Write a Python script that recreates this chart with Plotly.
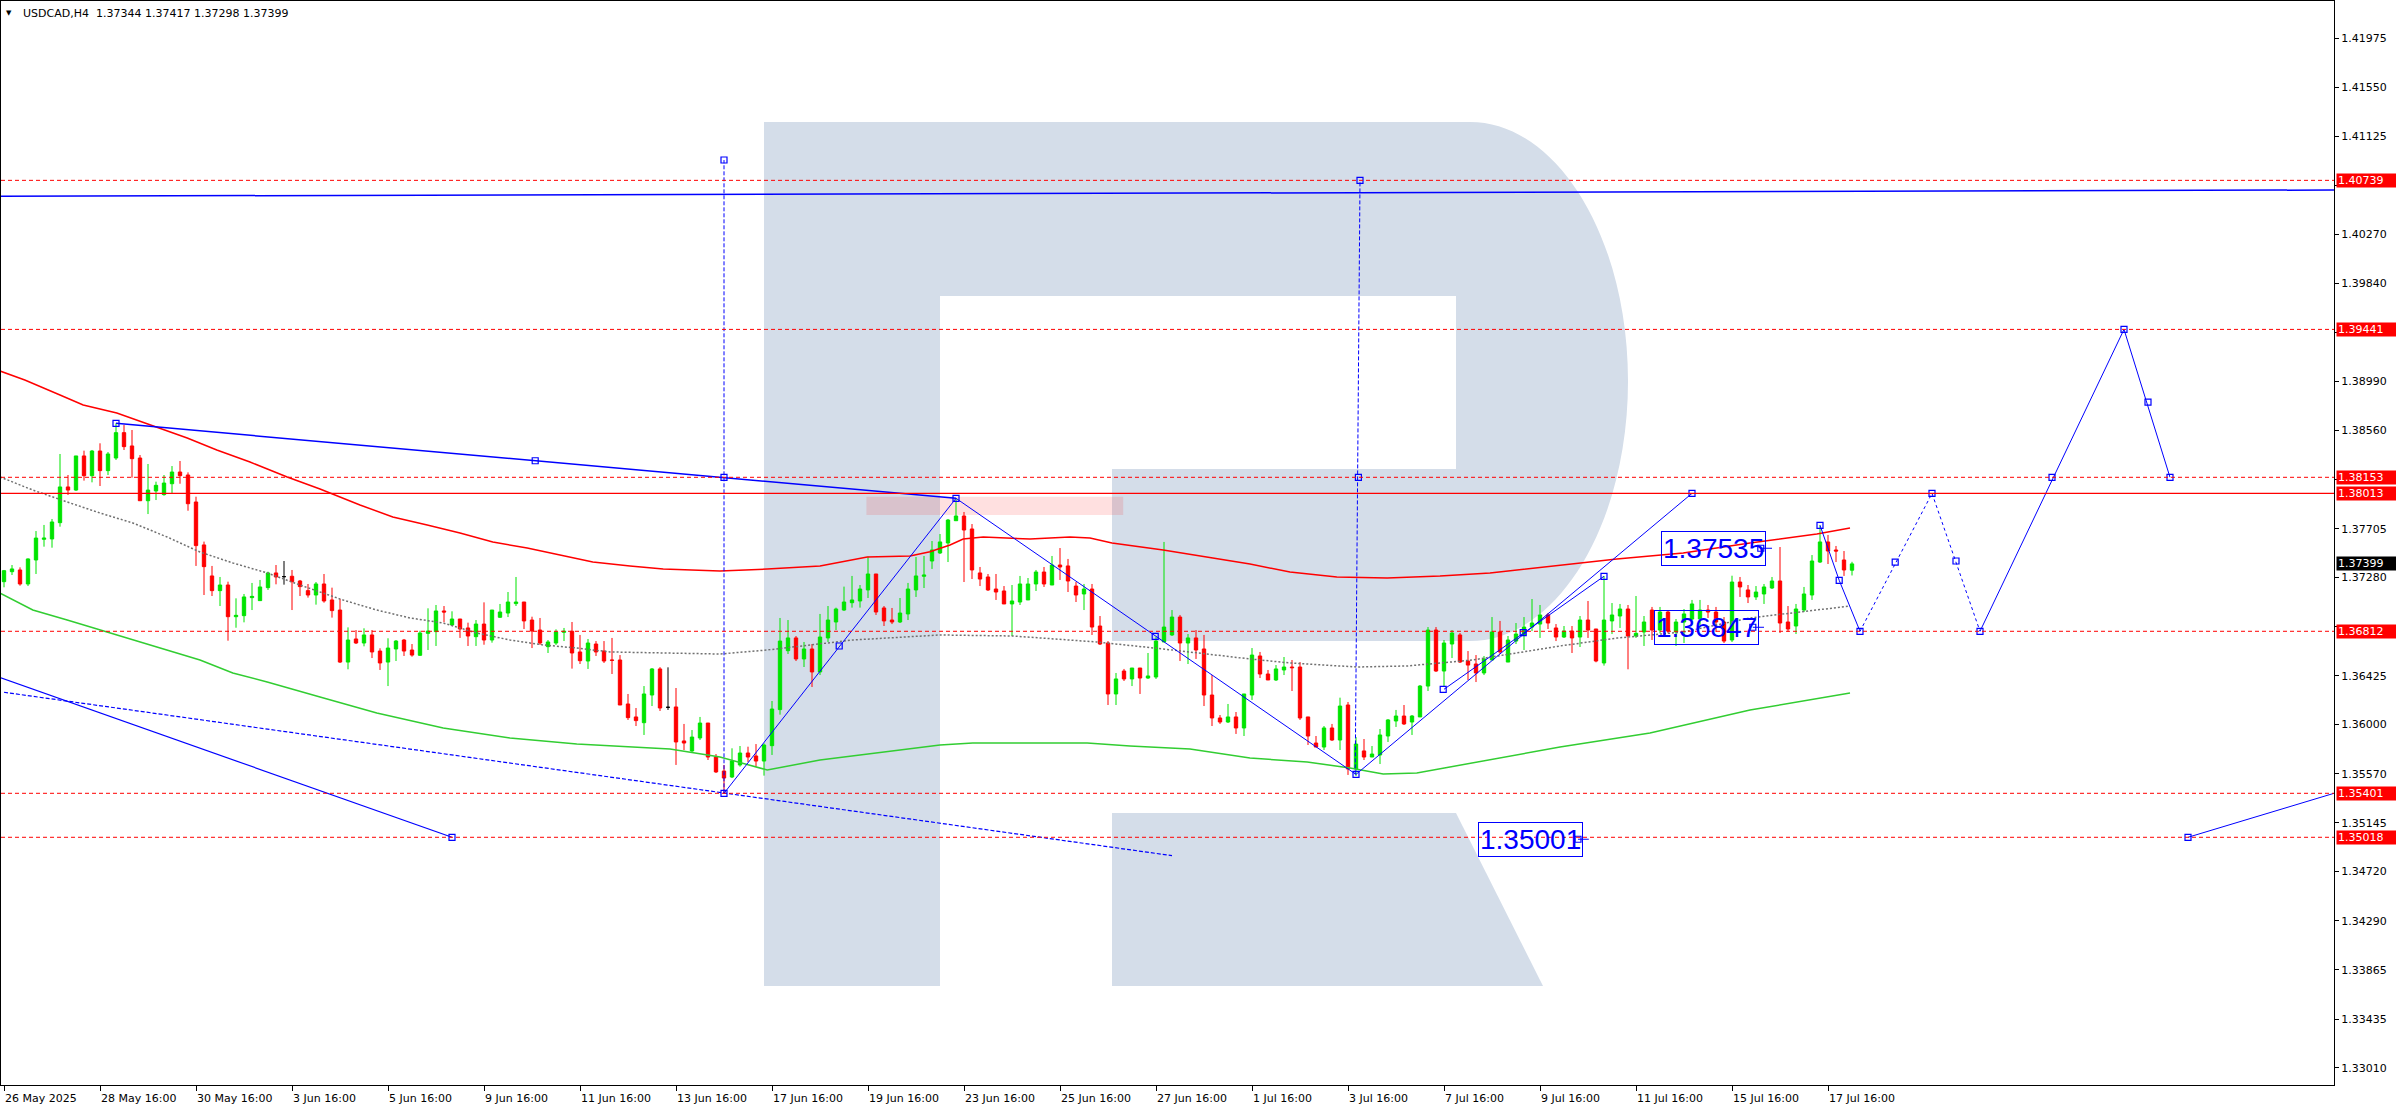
import plotly.graph_objects as go

# ---------------- DATA ----------------
SYMBOL = "USDCAD,H4"
TITLE_OHLC = [1.37344, 1.37417, 1.37298, 1.37399]

OPEN = [
 1.37244, 1.37331, 1.37346, 1.37224, 1.37433, 1.37613, 1.37616, 1.37758, 1.38069, 1.38042,
 1.38339, 1.38167, 1.38382, 1.38211, 1.38321, 1.38542, 1.38426, 1.38321, 1.37949, 1.38034,
 1.38002, 1.38097, 1.38199, 1.38173, 1.37938, 1.37564, 1.37294, 1.37166, 1.37215, 1.36939,
 1.36948, 1.37105, 1.37079, 1.37192, 1.37320, 1.37288, 1.37291, 1.37250, 1.37166, 1.37128,
 1.37224, 1.37085, 1.36997, 1.36544, 1.36745, 1.36710, 1.36780, 1.36640, 1.36544, 1.36658,
 1.36736, 1.36649, 1.36603, 1.36794, 1.36809, 1.36989, 1.36867, 1.36919, 1.36841, 1.36765,
 1.36875, 1.36736, 1.36934, 1.36971, 1.37053, 1.37067, 1.36910, 1.36823, 1.36678, 1.36710,
 1.36803, 1.36812, 1.36632, 1.36553, 1.36701, 1.36640, 1.36562, 1.36562, 1.36179, 1.36066,
 1.36016, 1.36257, 1.36484, 1.36150, 1.36153, 1.35857, 1.35770, 1.35883, 1.36013, 1.35717,
 1.35595, 1.35543, 1.35648, 1.35752, 1.35726, 1.35682, 1.35816, 1.36130, 1.36643, 1.36754,
 1.36571, 1.36658, 1.36458, 1.36754, 1.36893, 1.36997, 1.37061, 1.37076, 1.37172, 1.37311,
 1.37015, 1.36910, 1.36893, 1.36963, 1.37172, 1.37291, 1.37424, 1.37494, 1.37581, 1.37775,
 1.37816, 1.37703, 1.37320, 1.37285, 1.37180, 1.37163, 1.37050, 1.37067, 1.37085, 1.37224,
 1.37328, 1.37215, 1.37389, 1.37381, 1.37206, 1.37137, 1.37180, 1.36858, 1.36710, 1.36266,
 1.36466, 1.36397, 1.36492, 1.36405, 1.36414, 1.36719, 1.36780, 1.36936, 1.36710, 1.36754,
 1.36658, 1.36257, 1.36057, 1.36022, 1.36066, 1.35970, 1.36257, 1.36597, 1.36440, 1.36388,
 1.36475, 1.36501, 1.36501, 1.36066, 1.35839, 1.35804, 1.35970, 1.35865, 1.36170, 1.35613,
 1.35770, 1.35717, 1.35735, 1.35900, 1.36031, 1.36074, 1.36022, 1.36066, 1.36335, 1.36823,
 1.36466, 1.36701, 1.36780, 1.36553, 1.36527, 1.36449, 1.36562, 1.36806, 1.36544, 1.36727,
 1.36780, 1.36849, 1.36875, 1.36954, 1.36841, 1.36762, 1.36814, 1.36762, 1.36910, 1.36832,
 1.36536, 1.36902, 1.36945, 1.37006, 1.36771, 1.36806, 1.36997, 1.36823, 1.36980, 1.36806,
 1.36893, 1.36919, 1.36919, 1.36997, 1.36980, 1.36893, 1.36736, 1.37241, 1.37172, 1.37111,
 1.37137, 1.37189, 1.37250, 1.36893, 1.36858, 1.36997, 1.37128, 1.37415, 1.37590, 1.37520,
 1.37433, 1.37344]
HIGH = [
 1.37346, 1.37389, 1.37369, 1.37447, 1.37685, 1.37738, 1.37790, 1.38356, 1.38173, 1.38339,
 1.38385, 1.38391, 1.38449, 1.38373, 1.38623, 1.38608, 1.38565, 1.38347, 1.38269, 1.38115,
 1.38173, 1.38251, 1.38295, 1.38196, 1.37984, 1.37593, 1.37381, 1.37285, 1.37244, 1.37099,
 1.37137, 1.37233, 1.37259, 1.37331, 1.37389, 1.37424, 1.37346, 1.37259, 1.37224, 1.37241,
 1.37311, 1.37192, 1.37093, 1.36846, 1.36823, 1.36838, 1.36823, 1.36664, 1.36751, 1.36736,
 1.36745, 1.36701, 1.36817, 1.37012, 1.37041, 1.37032, 1.36986, 1.36919, 1.36887, 1.36910,
 1.37064, 1.36997, 1.37050, 1.37154, 1.37285, 1.37067, 1.36939, 1.36928, 1.36736, 1.36829,
 1.36841, 1.36893, 1.36780, 1.36745, 1.36727, 1.36727, 1.36754, 1.36605, 1.36266, 1.36144,
 1.36335, 1.36492, 1.36500, 1.36498, 1.36318, 1.36005, 1.35952, 1.36066, 1.36013, 1.35743,
 1.35648, 1.35793, 1.35813, 1.35807, 1.35830, 1.35836, 1.36205, 1.36928, 1.36910, 1.36771,
 1.36719, 1.36701, 1.36963, 1.37032, 1.37018, 1.37201, 1.37294, 1.37215, 1.37462, 1.37311,
 1.37032, 1.37015, 1.37102, 1.37233, 1.37459, 1.37468, 1.37598, 1.37659, 1.37790, 1.37970,
 1.37851, 1.37746, 1.37372, 1.37311, 1.37311, 1.37206, 1.37215, 1.37294, 1.37276, 1.37346,
 1.37372, 1.37468, 1.37537, 1.37442, 1.37241, 1.37224, 1.37224, 1.36945, 1.36727, 1.36449,
 1.36484, 1.36492, 1.36492, 1.36623, 1.36762, 1.37590, 1.36997, 1.36954, 1.36788, 1.36823,
 1.36780, 1.36431, 1.36083, 1.36179, 1.36109, 1.36266, 1.36666, 1.36632, 1.36475, 1.36518,
 1.36588, 1.36562, 1.36544, 1.36066, 1.35900, 1.35987, 1.36005, 1.36234, 1.36196, 1.35891,
 1.35874, 1.35813, 1.35961, 1.36048, 1.36127, 1.36170, 1.36083, 1.36344, 1.36849, 1.36849,
 1.36736, 1.36823, 1.36797, 1.36640, 1.36605, 1.36597, 1.36936, 1.36902, 1.36771, 1.36884,
 1.36936, 1.37093, 1.37041, 1.36971, 1.36875, 1.36858, 1.36858, 1.36945, 1.37076, 1.36832,
 1.37294, 1.37058, 1.37050, 1.37041, 1.37119, 1.36945, 1.37024, 1.37024, 1.36997, 1.36919,
 1.37006, 1.37085, 1.37085, 1.37041, 1.37024, 1.36936, 1.37296, 1.37285, 1.37215, 1.37206,
 1.37224, 1.37285, 1.37546, 1.37032, 1.37050, 1.37198, 1.37476, 1.37735, 1.37651, 1.37555,
 1.37511, 1.37417]
LOW = [
 1.37195, 1.37302, 1.37209, 1.37206, 1.37311, 1.37549, 1.37540, 1.37723, 1.37999, 1.38034,
 1.38124, 1.38109, 1.38077, 1.38173, 1.38304, 1.38391, 1.38150, 1.37949, 1.37833, 1.37955,
 1.37993, 1.38013, 1.38097, 1.37862, 1.37381, 1.37128, 1.37119, 1.37032, 1.36730, 1.36843,
 1.36890, 1.36997, 1.37076, 1.37172, 1.37221, 1.37218, 1.36997, 1.37119, 1.37105, 1.37044,
 1.37061, 1.36931, 1.36536, 1.36481, 1.36701, 1.36681, 1.36579, 1.36475, 1.36335, 1.36553,
 1.36597, 1.36591, 1.36597, 1.36649, 1.36684, 1.36890, 1.36867, 1.36754, 1.36684, 1.36684,
 1.36695, 1.36713, 1.36928, 1.36936, 1.37032, 1.36832, 1.36666, 1.36693, 1.36623, 1.36693,
 1.36727, 1.36487, 1.36527, 1.36484, 1.36597, 1.36536, 1.36440, 1.36170, 1.36040, 1.35987,
 1.35909, 1.36161, 1.36118, 1.36127, 1.35648, 1.35778, 1.35761, 1.35865, 1.35691, 1.35578,
 1.35401, 1.35534, 1.35633, 1.35674, 1.35633, 1.35555, 1.35735, 1.36086, 1.36614, 1.36553,
 1.36501, 1.36327, 1.36431, 1.36719, 1.36823, 1.36989, 1.37018, 1.37018, 1.37102, 1.36954,
 1.36858, 1.36875, 1.36884, 1.36910, 1.37111, 1.37189, 1.37355, 1.37485, 1.37415, 1.37775,
 1.37241, 1.37267, 1.37206, 1.37163, 1.37085, 1.37050, 1.36771, 1.37041, 1.37085, 1.37163,
 1.37198, 1.37215, 1.37259, 1.37154, 1.37067, 1.36997, 1.36780, 1.36693, 1.36170, 1.36170,
 1.36379, 1.36335, 1.36266, 1.36397, 1.36397, 1.36719, 1.36771, 1.36553, 1.36527, 1.36571,
 1.36161, 1.35987, 1.36005, 1.36013, 1.35918, 1.35900, 1.36214, 1.36405, 1.36388, 1.36379,
 1.36431, 1.36292, 1.36040, 1.35822, 1.35804, 1.35778, 1.35857, 1.35778, 1.35561, 1.35552,
 1.35691, 1.35717, 1.35656, 1.35848, 1.35979, 1.35996, 1.35909, 1.36066, 1.36292, 1.36458,
 1.36327, 1.36579, 1.36536, 1.36388, 1.36370, 1.36431, 1.36562, 1.36614, 1.36544, 1.36701,
 1.36649, 1.36814, 1.36754, 1.36832, 1.36727, 1.36754, 1.36623, 1.36675, 1.36754, 1.36542,
 1.36513, 1.36788, 1.36841, 1.36481, 1.36754, 1.36684, 1.36736, 1.36794, 1.36794, 1.36684,
 1.36710, 1.36910, 1.36858, 1.36928, 1.36806, 1.36710, 1.36719, 1.37111, 1.37058, 1.37085,
 1.37050, 1.37180, 1.36797, 1.36806, 1.36788, 1.36980, 1.37085, 1.37407, 1.37398, 1.37415,
 1.37294, 1.37298]
CLOSE = [
 1.37340, 1.37355, 1.37224, 1.37442, 1.37624, 1.37624, 1.37764, 1.38069, 1.38042, 1.38339,
 1.38167, 1.38382, 1.38211, 1.38356, 1.38542, 1.38420, 1.38315, 1.37949, 1.38042, 1.38083,
 1.38103, 1.38199, 1.38167, 1.37923, 1.37558, 1.37375, 1.37166, 1.37215, 1.36939, 1.36951,
 1.37111, 1.37116, 1.37198, 1.37320, 1.37285, 1.37288, 1.37244, 1.37201, 1.37128, 1.37224,
 1.37076, 1.36992, 1.36544, 1.36736, 1.36710, 1.36780, 1.36632, 1.36536, 1.36666, 1.36727,
 1.36640, 1.36605, 1.36797, 1.36814, 1.36989, 1.36980, 1.36919, 1.36832, 1.36771, 1.36875,
 1.36736, 1.36997, 1.36980, 1.37067, 1.37067, 1.36902, 1.36814, 1.36710, 1.36719, 1.36806,
 1.36812, 1.36623, 1.36556, 1.36710, 1.36632, 1.36553, 1.36559, 1.36170, 1.36060, 1.36034,
 1.36266, 1.36484, 1.36144, 1.36150, 1.35848, 1.35839, 1.35891, 1.36013, 1.35717, 1.35587,
 1.35534, 1.35682, 1.35752, 1.35717, 1.35682, 1.35822, 1.36135, 1.36727, 1.36754, 1.36571,
 1.36658, 1.36458, 1.36762, 1.36910, 1.37006, 1.37067, 1.37085, 1.37180, 1.37311, 1.36980,
 1.36902, 1.36893, 1.36971, 1.37180, 1.37294, 1.37302, 1.37520, 1.37590, 1.37781, 1.37816,
 1.37694, 1.37346, 1.37267, 1.37172, 1.37154, 1.37050, 1.37076, 1.37224, 1.37224, 1.37328,
 1.37224, 1.37389, 1.37372, 1.37250, 1.37128, 1.37180, 1.36849, 1.36701, 1.36266, 1.36397,
 1.36397, 1.36492, 1.36405, 1.36423, 1.36727, 1.36849, 1.36936, 1.36710, 1.36754, 1.36649,
 1.36257, 1.36057, 1.36022, 1.36066, 1.35970, 1.36266, 1.36605, 1.36440, 1.36388, 1.36484,
 1.36501, 1.36495, 1.36057, 1.35900, 1.35804, 1.35970, 1.35865, 1.36161, 1.35613, 1.35830,
 1.35717, 1.35743, 1.35909, 1.36040, 1.36074, 1.36005, 1.36074, 1.36335, 1.36823, 1.36466,
 1.36710, 1.36797, 1.36544, 1.36518, 1.36449, 1.36571, 1.36806, 1.36632, 1.36736, 1.36788,
 1.36849, 1.36884, 1.36954, 1.36884, 1.36762, 1.36814, 1.36754, 1.36910, 1.36823, 1.36553,
 1.36910, 1.36954, 1.37006, 1.36771, 1.36794, 1.36893, 1.36823, 1.36980, 1.36814, 1.36893,
 1.36963, 1.37050, 1.36997, 1.36980, 1.36893, 1.36727, 1.37241, 1.37198, 1.37111, 1.37154,
 1.37198, 1.37250, 1.36884, 1.36832, 1.37006, 1.37137, 1.37424, 1.37590, 1.37511, 1.37511,
 1.37346, 1.37399]
BARS = list(range(len(OPEN)))
DOJI_BARS = [35, 83]

DATE_TICK_BARS = [0, 12, 24, 36, 48, 60, 72, 84, 96, 108, 120, 132, 144, 156, 168, 180, 192, 204, 216, 228]
DATE_TICK_TEXT = ["26 May 2025", "28 May 16:00", "30 May 16:00", "3 Jun 16:00", "5 Jun 16:00",
                  "9 Jun 16:00", "11 Jun 16:00", "13 Jun 16:00", "17 Jun 16:00", "19 Jun 16:00",
                  "23 Jun 16:00", "25 Jun 16:00", "27 Jun 16:00", "1 Jul 16:00", "3 Jul 16:00",
                  "7 Jul 16:00", "9 Jul 16:00", "11 Jul 16:00", "15 Jul 16:00", "17 Jul 16:00"]
PRICE_TICKS = [1.41975, 1.41550, 1.41125, 1.40695, 1.40270, 1.39840, 1.39415, 1.38990, 1.38560,
               1.38135, 1.37705, 1.37280, 1.36855, 1.36425, 1.36000, 1.35570, 1.35145, 1.34720,
               1.34290, 1.33865, 1.33435, 1.33010]
PRICE_TICKS_HIDDEN = [1.40695, 1.39415, 1.38135, 1.36855]   # covered by the level price labels

# moving averages
MA_RED_X = [-0.5, 2.6, 7.0, 9.9, 14.1, 19.1, 22.9, 26.6, 30.75, 35.4, 39.5, 44.5, 48.6, 52.9, 57.0,
            61.1, 65.4, 69.5, 73.6, 78.25, 82.4, 89.5, 95.4, 102.0, 107.9, 113.25, 115.75, 118.25,
            119.9, 122.4, 128.25, 133.25, 135.75, 138.5, 144.9, 151.1, 155.75, 160.75, 166.6, 172.9,
            179.5, 185.75, 194.5, 201.6, 209.9, 218.25, 226.6, 230.75]
MA_RED_Y = [1.39079, 1.39000, 1.38870, 1.38783, 1.38713, 1.38591, 1.38495, 1.38391, 1.38286, 1.38156,
            1.38051, 1.37912, 1.37807, 1.37738, 1.37668, 1.37590, 1.37537, 1.37476, 1.37415, 1.37381,
            1.37354, 1.37337, 1.37354, 1.37381, 1.37459, 1.37468, 1.37505, 1.37563, 1.37616, 1.37633,
            1.37616, 1.37633, 1.37624, 1.37581, 1.37520, 1.37450, 1.37398, 1.37328, 1.37285, 1.37276,
            1.37293, 1.37320, 1.37389, 1.37441, 1.37494, 1.37581, 1.37659, 1.37711]
MA_GRAY_X = [-0.5, 3.6, 7.9, 12.0, 16.1, 20.4, 24.5, 28.6, 32.9, 37.0, 42.4, 46.6, 50.75, 54.9, 59.1,
             63.25, 67.4, 71.6, 75.75, 89.5, 95.4, 102.0, 106.1, 117.0, 126.1, 136.6, 144.9, 155.75,
             160.75, 169.1, 175.4, 183.6, 194.5, 201.6, 209.9, 218.25, 226.6, 230.75]
MA_GRAY_Y = [1.38156, 1.38042, 1.37938, 1.37842, 1.37755, 1.37633, 1.37502, 1.37407, 1.37320, 1.37215,
             1.37084, 1.36997, 1.36928, 1.36884, 1.36797, 1.36736, 1.36693, 1.36666, 1.36632, 1.36614,
             1.36649, 1.36701, 1.36736, 1.36780, 1.36771, 1.36719, 1.36658, 1.36571, 1.36536, 1.36501,
             1.36510, 1.36562, 1.36684, 1.36753, 1.36806, 1.36928, 1.36997, 1.37032]
MA_GREEN_X = [-0.5, 3.6, 7.9, 12.0, 16.1, 20.4, 24.5, 28.6, 32.9, 39.5, 46.6, 54.9, 63.25, 71.6, 78.25,
              83.25, 89.5, 95.4, 102.0, 110.4, 117.0, 121.1, 135.4, 140.75, 148.25, 155.75, 162.9,
              168.25, 172.4, 176.6, 183.6, 194.5, 205.75, 218.25, 230.75]
MA_GREEN_Y = [1.37145, 1.36997, 1.36910, 1.36823, 1.36736, 1.36649, 1.36562, 1.36449, 1.36370, 1.36240,
              1.36100, 1.35970, 1.35883, 1.35830, 1.35804, 1.35787, 1.35717, 1.35604, 1.35691, 1.35761,
              1.35822, 1.35839, 1.35839, 1.35813, 1.35787, 1.35708, 1.35674, 1.35621, 1.35569, 1.35578,
              1.35665, 1.35804, 1.35926, 1.36126, 1.36274]

# horizontal levels
LEVELS_DOTTED = [1.40739, 1.39441, 1.38153, 1.36812, 1.35401, 1.35018]
LEVELS_SOLID = [1.38013]
AXIS_LABELS_RED = [1.40739, 1.39441, 1.38153, 1.38013, 1.36812, 1.35401, 1.35018]
CURRENT_PRICE = 1.37399

# drawn trend lines (bar index, price)
TOP_LINE_X = [-0.375, 291.25]
TOP_LINE_Y = [1.40600, 1.40655]
PEAK_TREND_X = [14, 119]
PEAK_TREND_Y = [1.38623, 1.37970]
LOW_SOLID_X = [-0.5, 56]
LOW_SOLID_Y = [1.36410, 1.35018]
LOW_DOTTED_X = [0, 146]
LOW_DOTTED_Y = [1.36281, 1.34858]
ZIGZAG_X = [90, 119, 169, 211]
ZIGZAG_Y = [1.35401, 1.37970, 1.35566, 1.38013]
INNER_TREND_X = [180, 200]
INNER_TREND_Y = [1.36307, 1.37291]
VERT1_X = [90, 90]
VERT1_Y = [1.35401, 1.40916]
VERT2_X = [168.9, 169.5]
VERT2_Y = [1.35566, 1.40739]
FC_SOLID1_X = [227, 229.4, 232]
FC_SOLID1_Y = [1.37735, 1.37256, 1.36812]
FC_DOTTED_X = [232, 241, 247]
FC_DOTTED_Y = [1.36812, 1.38013, 1.36812]
FC_SOLID2_X = [247, 265, 270.75]
FC_SOLID2_Y = [1.36812, 1.39441, 1.38153]
EXTRA_LINE_X = [273, 291.25]
EXTRA_LINE_Y = [1.35018, 1.35401]
MARKER_X = [14, 66.4, 56, 90, 104.4, 119, 143.9, 169, 179.9, 189.9, 200, 211, 227, 229.4, 232,
            236.4, 241, 244, 247, 256, 265, 268, 270.75, 273, 90, 169.5, 90, 169.3]
MARKER_Y = [1.38623, 1.38297, 1.35018, 1.35401, 1.36684, 1.37970, 1.36768, 1.35566, 1.36307, 1.36800,
            1.37291, 1.38013, 1.37735, 1.37256, 1.36812, 1.37415, 1.38013, 1.37424, 1.36812, 1.38153,
            1.39441, 1.38807, 1.38153, 1.35018, 1.40916, 1.40739, 1.38153, 1.38153]

# text labels on the chart
TEXT_LABELS = ["1.37535", "1.36847", "1.35001"]
TEXT_LABEL_PRICE = [1.37535, 1.36847, 1.35001]
TEXT_LABEL_BAR = [207.1, 206.2, 184.2]
TEXT_LINK_X0 = [219.6, 218.6, 196.75]
TEXT_LINK_X1 = [221.0, 220.0, 198.1]

SHADE_X = [107.8, 139.9]
SHADE_Y = [1.37825, 1.37984]

# ---------------- GEOMETRY / STYLE ----------------
FIG_W, FIG_H = 2396, 1110
M_L, M_R, M_T, M_B = 1, 62, 1, 25
BAR_PX, FIRST_BAR_PX = 8, 4
REF_PRICE, REF_PX, PX_PER_UNIT = 1.38153, 477.3, 11483.0
X_RANGE = [(M_L - FIRST_BAR_PX) / BAR_PX, (FIG_W - M_R - FIRST_BAR_PX) / BAR_PX]
Y_RANGE = [REF_PRICE - (FIG_H - M_B - REF_PX) / PX_PER_UNIT, REF_PRICE + (REF_PX - M_T) / PX_PER_UNIT]

BLUE = "#0000ff"
RED = "#ff0000"
GREEN = "#00e400"
LOGO = "#d4dde9"
AXFONT = dict(family="DejaVu Sans", size=11, color="black")

fig = go.Figure()

# moving averages
fig.add_trace(go.Scatter(x=MA_GREEN_X, y=MA_GREEN_Y, mode="lines", line=dict(color="#32cd32", width=1.5), hoverinfo="skip"))
fig.add_trace(go.Scatter(x=MA_GRAY_X, y=MA_GRAY_Y, mode="lines", line=dict(color="#707070", width=1.5, dash="2px,2px"), hoverinfo="skip"))
fig.add_trace(go.Scatter(x=MA_RED_X, y=MA_RED_Y, mode="lines", line=dict(color=RED, width=1.5), hoverinfo="skip"))

# candles
main = [i for i in BARS if i not in DOJI_BARS]
fig.add_trace(go.Candlestick(
    x=[BARS[i] for i in main], open=[OPEN[i] for i in main], high=[HIGH[i] for i in main],
    low=[LOW[i] for i in main], close=[CLOSE[i] for i in main],
    increasing=dict(line=dict(color=GREEN, width=1), fillcolor=GREEN),
    decreasing=dict(line=dict(color=RED, width=1), fillcolor=RED),
    whiskerwidth=0, hoverinfo="skip"))
fig.add_trace(go.Candlestick(
    x=DOJI_BARS, open=[OPEN[i] for i in DOJI_BARS], high=[HIGH[i] for i in DOJI_BARS],
    low=[LOW[i] for i in DOJI_BARS], close=[CLOSE[i] for i in DOJI_BARS],
    increasing=dict(line=dict(color="black", width=1), fillcolor="black"),
    decreasing=dict(line=dict(color="black", width=1), fillcolor="black"),
    whiskerwidth=0, hoverinfo="skip"))

def line(xs, ys, width=1, dash=None):
    fig.add_trace(go.Scatter(x=xs, y=ys, mode="lines", line=dict(color=BLUE, width=width, dash=dash),
                             hoverinfo="skip"))

line(TOP_LINE_X, TOP_LINE_Y, 1.5)
line(PEAK_TREND_X, PEAK_TREND_Y, 1.5)
line(LOW_SOLID_X, LOW_SOLID_Y, 1.2)
line(LOW_DOTTED_X, LOW_DOTTED_Y, 1.2, "4px,2px")
line(ZIGZAG_X, ZIGZAG_Y, 1)
line(INNER_TREND_X, INNER_TREND_Y, 1)
line(VERT1_X, VERT1_Y, 1, "4px,2px")
line(VERT2_X, VERT2_Y, 1, "4px,2px")
line(FC_SOLID1_X, FC_SOLID1_Y, 1)
line(FC_DOTTED_X, FC_DOTTED_Y, 1, "3px,3px")
line(FC_SOLID2_X, FC_SOLID2_Y, 1)
line(EXTRA_LINE_X, EXTRA_LINE_Y, 1)
for x0, x1, p in zip(TEXT_LINK_X0, TEXT_LINK_X1, TEXT_LABEL_PRICE):
    line([x0, x1], [p, p], 1)
fig.add_trace(go.Scatter(x=MARKER_X + TEXT_LINK_X0, y=MARKER_Y + TEXT_LABEL_PRICE, mode="markers",
                         marker=dict(symbol="square-open", size=6, color=BLUE, line=dict(width=1.2)),
                         hoverinfo="skip"))

# ---------------- SHAPES ----------------
shapes = []
def pp(x, y):
    return f"{(x - M_L) / (FIG_W - M_L - M_R):.5f},{1 - (y - M_T) / (FIG_H - M_T - M_B):.5f}"

k = 0.5523
cx, cy, rx, ry = 1470, 381, 158, 259
logo_paths = [
    f"M {pp(764,122)} L {pp(940,122)} L {pp(940,986)} L {pp(764,986)} Z",
    (f"M {pp(940,122)} L {pp(cx,122)} C {pp(cx+rx*k,122)} {pp(cx+rx,cy-ry*k)} {pp(cx+rx,cy)} "
     f"C {pp(cx+rx,cy+ry*k)} {pp(cx+rx*k,641)} {pp(cx,641)} L {pp(1112,641)} L {pp(1112,469)} "
     f"L {pp(1456,469)} L {pp(1456,296)} L {pp(940,296)} Z"),
    f"M {pp(1112,813)} L {pp(1456,813)} L {pp(1543,986)} L {pp(1112,986)} Z",
]
for pth in logo_paths:
    shapes.append(dict(type="path", path=pth, xref="paper", yref="paper", fillcolor=LOGO,
                       line=dict(width=0), layer="below"))
shapes.append(dict(type="rect", x0=SHADE_X[0], x1=SHADE_X[1], y0=SHADE_Y[0], y1=SHADE_Y[1],
                   xref="x", yref="y", fillcolor="rgba(255,0,0,0.12)", line=dict(width=0), layer="below"))
for v in LEVELS_DOTTED:
    shapes.append(dict(type="line", xref="paper", x0=0, x1=1, yref="y", y0=v, y1=v,
                       line=dict(color=RED, width=1, dash="4px,3px"), layer="above"))
for v in LEVELS_SOLID:
    shapes.append(dict(type="line", xref="paper", x0=0, x1=1, yref="y", y0=v, y1=v,
                       line=dict(color=RED, width=1.3), layer="above"))

# ---------------- ANNOTATIONS ----------------
ann = []
for b, t in zip(DATE_TICK_BARS, DATE_TICK_TEXT):
    ann.append(dict(x=b, xref="x", y=0, yref="paper", text=t, showarrow=False, xanchor="left",
                    yanchor="top", xshift=-1, yshift=-5, font=AXFONT))
for v in AXIS_LABELS_RED:
    ann.append(dict(x=1, xref="paper", y=v, yref="y", text=f"{v:.5f}", showarrow=False, xanchor="left",
                    xshift=2, bgcolor=RED, font=dict(family="DejaVu Sans", size=11, color="white"),
                    width=58, height=11, borderpad=1, align="left"))
ann.append(dict(x=1, xref="paper", y=CURRENT_PRICE, yref="y", text=f"{CURRENT_PRICE:.5f}", showarrow=False,
                xanchor="left", xshift=2, bgcolor="black", font=dict(family="DejaVu Sans", size=11, color="white"),
                width=58, height=11, borderpad=1, align="left"))
for t, p, b in zip(TEXT_LABELS, TEXT_LABEL_PRICE, TEXT_LABEL_BAR):
    ann.append(dict(x=b, xref="x", y=p, yref="y", text=t, showarrow=False, xanchor="left", yanchor="middle",
                    font=dict(family="Liberation Sans", size=28, color=BLUE), bordercolor=BLUE,
                    borderwidth=1, borderpad=1))
ann.append(dict(x=0, xref="paper", y=1, yref="paper", text="▼", showarrow=False, xanchor="left",
                yanchor="top", xshift=3, yshift=-6, font=dict(family="DejaVu Sans", size=7, color="black")))
title = SYMBOL + "\u00a0\u00a0" + " ".join(f"{v:.5f}" for v in TITLE_OHLC)
ann.append(dict(x=0, xref="paper", y=1, yref="paper", text=title, showarrow=False, xanchor="left",
                yanchor="top", xshift=20, yshift=-4, font=AXFONT))

tick_text = ["" if v in PRICE_TICKS_HIDDEN else f"{v:.5f}" for v in PRICE_TICKS]

fig.update_layout(
    width=FIG_W, height=FIG_H, margin=dict(l=M_L, r=M_R, t=M_T, b=M_B, pad=0),
    paper_bgcolor="white", plot_bgcolor="white", showlegend=False, boxgap=0.4,
    shapes=shapes, annotations=ann,
    xaxis=dict(range=X_RANGE, showgrid=False, zeroline=False, showline=True, mirror=True, linecolor="black",
               linewidth=1, ticks="outside", ticklen=5, tickcolor="black", tickvals=DATE_TICK_BARS,
               showticklabels=False, rangeslider=dict(visible=False), fixedrange=True),
    yaxis=dict(range=Y_RANGE, side="right", showgrid=False, zeroline=False, showline=True, mirror=True,
               linecolor="black", linewidth=1, ticks="outside", ticklen=4, tickcolor="black",
               tickvals=PRICE_TICKS, ticktext=tick_text, tickfont=AXFONT,
               fixedrange=True),
)
fig.write_html("out.html", config={"displayModeBar": False},
               post_script="document.body.style.margin='0';document.body.style.overflow='hidden';")
